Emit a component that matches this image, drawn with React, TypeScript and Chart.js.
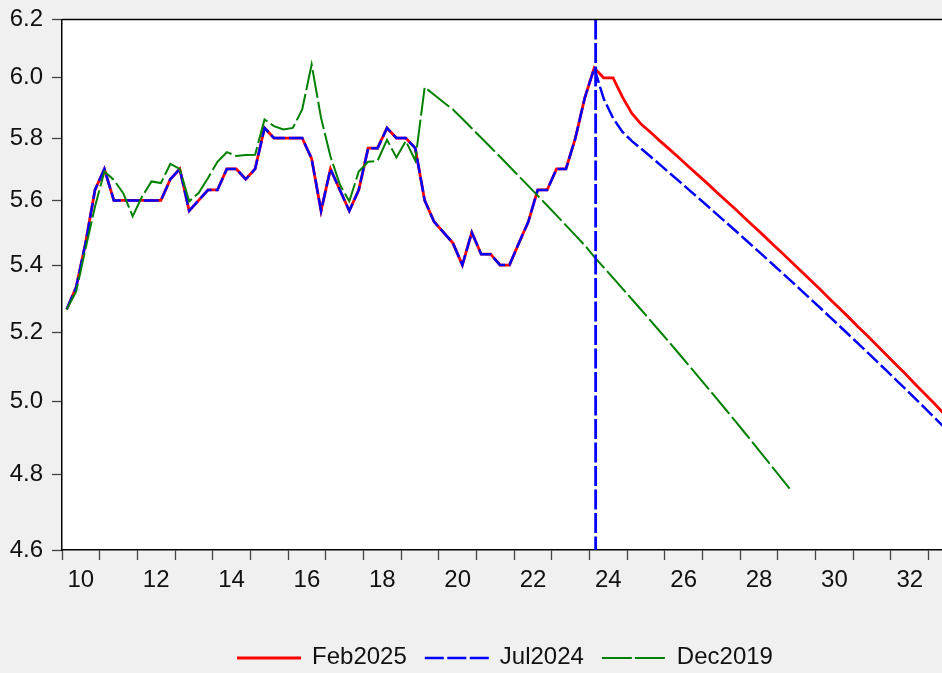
import { useEffect, useRef } from "react";
import { Chart, registerables } from "chart.js";

Chart.register(...registerables);

// Quarterly data, 2010Q1 onwards (index 0 = 2010Q1)
const HISTORY = [
  5.267, 5.333, 5.467, 5.633, 5.7, 5.6, 5.6, 5.6, 5.6, 5.6,
  5.6, 5.667, 5.7, 5.567, 5.6, 5.633, 5.633, 5.7, 5.7, 5.667,
  5.7, 5.833, 5.8, 5.8, 5.8, 5.8, 5.733, 5.567, 5.7, 5.633,
  5.567, 5.633, 5.767, 5.767, 5.833, 5.8, 5.8, 5.767, 5.6, 5.533,
  5.5, 5.467, 5.4, 5.5, 5.433, 5.433, 5.4, 5.4, 5.467, 5.533,
  5.633, 5.633, 5.7, 5.7, 5.8, 5.933, 6.033,
];

const FEB2025_FORECAST = [
  6.0, 6.0, 5.935, 5.881, 5.845, 5.818, 5.79, 5.763, 5.736, 5.708,
  5.681, 5.654, 5.626, 5.599, 5.572, 5.544, 5.517, 5.49, 5.462, 5.435,
  5.408, 5.38, 5.353, 5.326, 5.298, 5.271, 5.244, 5.216, 5.189, 5.162,
  5.134, 5.107, 5.08, 5.052, 5.025, 4.998, 4.97, 4.943, 4.916, 4.888,
  4.861, 4.834, 4.806,
];

const JUL2024_FORECAST = [
  5.93, 5.865, 5.82, 5.79, 5.765, 5.739, 5.713, 5.687, 5.661, 5.635,
  5.609, 5.583, 5.557, 5.531, 5.505, 5.479, 5.453, 5.427, 5.401, 5.375,
  5.349, 5.323, 5.297, 5.271, 5.245, 5.219, 5.193, 5.167, 5.141, 5.115,
  5.089, 5.063, 5.037, 5.011, 4.985, 4.959, 4.933, 4.907, 4.881, 4.855,
  4.829, 4.803, 4.777,
];

const DEC2019_VALUES = [
  5.267, 5.32, 5.45, 5.58, 5.692, 5.665, 5.623, 5.55, 5.612, 5.66,
  5.655, 5.716, 5.7, 5.597, 5.623, 5.671, 5.723, 5.754, 5.742, 5.745,
  5.746, 5.861, 5.839, 5.828, 5.833, 5.894, 6.045, 5.866, 5.74, 5.65,
  5.597, 5.692, 5.723, 5.726, 5.794, 5.737, 5.79, 5.727, 5.968, 5.943,
  5.918, 5.894, 5.863, 5.832, 5.801, 5.77, 5.739, 5.708, 5.677, 5.646,
  5.615, 5.584, 5.553, 5.522, 5.491, 5.46, 5.425, 5.393, 5.361, 5.329,
  5.297, 5.265, 5.233, 5.201, 5.169, 5.137, 5.105, 5.073, 5.041, 5.009,
  4.977, 4.945, 4.913, 4.881, 4.849, 4.817, 4.785, 4.753,
];

const SERIES_NAMES = ["Feb2025", "Jul2024", "Dec2019"];
const Y_TICKS = [4.6, 4.8, 5.0, 5.2, 5.4, 5.6, 5.8, 6.0, 6.2];
const YEAR_LABELS = ["10", "12", "14", "16", "18", "20", "22", "24", "26", "28", "30", "32", "34"];
const X_MIN_Q = 0; // 2010Q1 start, in quarters
const X_MAX_Q = 100; // 2035 start
const FORECAST_LINE_Q = 56.65; // marker at 2024Q1

const FONT = '"Liberation Sans", Arial, sans-serif';

const toPoints = (vals: number[]) => vals.map((v, i) => ({ x: i + 0.5, y: v }));

export default function App() {
  const ref = useRef<HTMLCanvasElement | null>(null);

  useEffect(() => {
    document.body.style.margin = "0";
    document.body.style.background = "#f0f0f0";
    const canvas = ref.current;
    if (!canvas) return;

    const bgPlugin = {
      id: "bg",
      beforeDraw(chart: any) {
        const { ctx, chartArea } = chart;
        ctx.save();
        ctx.fillStyle = "#f0f0f0";
        ctx.fillRect(0, 0, chart.width, chart.height);
        ctx.fillStyle = "#ffffff";
        ctx.fillRect(chartArea.left, chartArea.top, chartArea.right - chartArea.left, chartArea.bottom - chartArea.top);
        ctx.restore();
      },
    };

    const overlayPlugin = {
      id: "overlay",
      afterDatasetsDraw(chart: any) {
        const { ctx, chartArea, scales } = chart;
        const x = scales.x.getPixelForValue(FORECAST_LINE_Q);
        ctx.save();
        ctx.strokeStyle = "#0000ff";
        ctx.lineWidth = 2.8;
        ctx.setLineDash([20, 3.5]);
        ctx.beginPath();
        ctx.moveTo(x, chartArea.top);
        ctx.lineTo(x, chartArea.bottom);
        ctx.stroke();
        ctx.restore();
      },
      afterDraw(chart: any) {
        const { ctx, chartArea } = chart;
        ctx.save();
        // top frame
        ctx.strokeStyle = "#000";
        ctx.lineWidth = 1.5;
        ctx.beginPath();
        ctx.moveTo(chartArea.left, chartArea.top);
        ctx.lineTo(chartArea.right, chartArea.top);
        ctx.stroke();

        // legend
        ctx.font = `24px ${FONT}`;
        const sample = 64;
        const gapText = 11;
        const gapItem = 18;
        const dashes = [[], [19, 3.5], [30, 3]];
        const ds = chart.data.datasets;
        const widths = SERIES_NAMES.map((n) => ctx.measureText(n).width);
        const total =
          widths.reduce((a: number, w: number) => a + w + sample + gapText, 0) + gapItem * (SERIES_NAMES.length - 1);
        let x = chart.width / 2 - total / 2;
        const yLine = 658;
        SERIES_NAMES.forEach((name, i) => {
          const d = ds.find((q: any) => q.label === name);
          ctx.strokeStyle = d.borderColor;
          ctx.lineWidth = d.borderWidth;
          ctx.setLineDash(dashes[i]);
          ctx.beginPath();
          ctx.moveTo(x, yLine);
          ctx.lineTo(x + sample, yLine);
          ctx.stroke();
          x += sample + gapText;
          ctx.setLineDash([]);
          ctx.fillStyle = "#111";
          ctx.textBaseline = "alphabetic";
          ctx.textAlign = "left";
          ctx.fillText(name, x, 664);
          x += widths[i] + gapItem;
        });
        ctx.restore();
      },
    };

    const chart = new Chart(canvas, {
      type: "line",
      data: {
        datasets: [
          {
            label: SERIES_NAMES[0],
            data: toPoints(HISTORY.concat(FEB2025_FORECAST)),
            borderColor: "#ff0000",
            borderWidth: 2.8,
            order: 3,
          },
          {
            label: SERIES_NAMES[1],
            data: toPoints(HISTORY.concat(JUL2024_FORECAST)),
            borderColor: "#0000ff",
            borderWidth: 2.5,
            borderDash: [15, 4],
            order: 2,
          },
          {
            label: SERIES_NAMES[2],
            data: toPoints(DEC2019_VALUES),
            borderColor: "#008000",
            borderWidth: 2.0,
            borderDash: [28, 4],
            order: 1,
          },
        ],
      },
      options: {
        responsive: false,
        animation: false,
        devicePixelRatio: 1,
        layout: { padding: { top: 19.5, right: 6, left: 0, bottom: 0 } },
        elements: { point: { radius: 0 }, line: { tension: 0 } },
        plugins: { legend: { display: false }, tooltip: { enabled: false } },
        scales: {
          x: {
            type: "linear",
            min: X_MIN_Q,
            max: X_MAX_Q,
            afterBuildTicks: (s: any) => {
              const t = [];
              for (let v = X_MIN_Q; v <= X_MAX_Q; v += 2) t.push({ value: v });
              s.ticks = t;
            },
            afterFit: (s: any) => {
              s.height = 123;
              s.paddingLeft = 0;
              s.paddingRight = 0;
            },
            grid: {
              drawOnChartArea: false,
              drawTicks: true,
              tickLength: 10,
              tickWidth: 1.3,
              tickColor: (c: any) => (c.tick && c.tick.value % 4 === 0 ? "#444" : "rgba(0,0,0,0)"),
            },
            border: { display: true, color: "#000", width: 1.5 },
            ticks: {
              autoSkip: false,
              maxRotation: 0,
              minRotation: 0,
              padding: 6,
              color: "#111",
              font: { family: FONT, size: 24 },
              callback: (v: any) => (v % 8 === 2 ? YEAR_LABELS[(v - 2) / 8] : ""),
            },
          },
          y: {
            type: "logarithmic",
            min: 4.6,
            max: 6.2,
            afterBuildTicks: (s: any) => {
              s.ticks = Y_TICKS.map((v) => ({ value: v }));
            },
            afterFit: (s: any) => {
              s.width = 62;
              s.paddingTop = 0;
              s.paddingBottom = 0;
            },
            grid: { drawOnChartArea: false, tickLength: 10, tickWidth: 1.3, tickColor: "#444" },
            border: { display: true, color: "#000", width: 1.5 },
            ticks: {
              padding: 9,
              color: "#111",
              font: { family: FONT, size: 24 },
              callback: (v: any) => Number(v).toFixed(1),
            },
          },
        },
      } as any,
      plugins: [bgPlugin, overlayPlugin],
    });

    return () => chart.destroy();
  }, []);

  return (
    <div style={{ width: 942, height: 673, overflow: "hidden", background: "#f0f0f0" }}>
      <canvas ref={ref} width={1010} height={673} style={{ display: "block" }} />
    </div>
  );
}
